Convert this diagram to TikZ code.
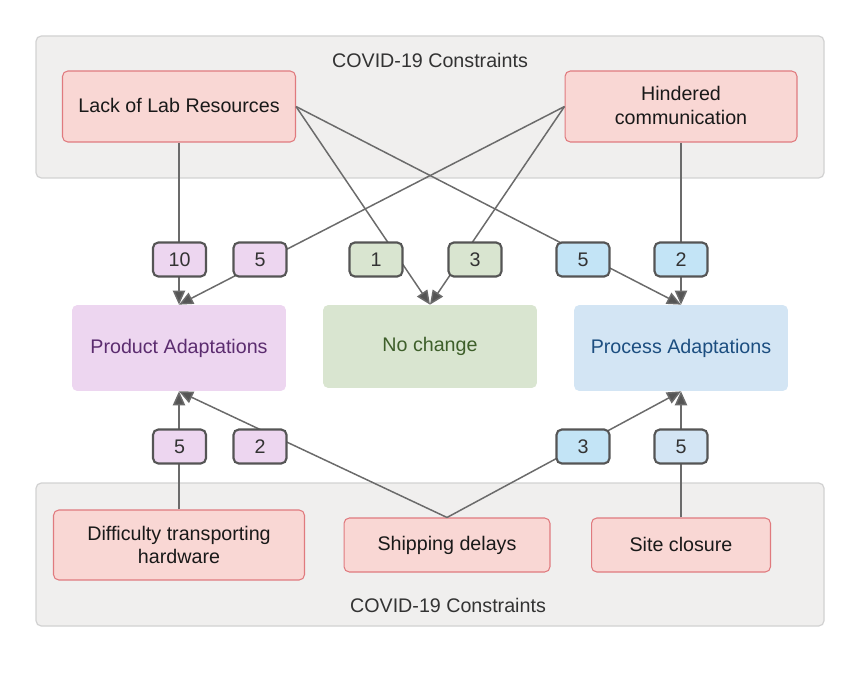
\documentclass[tikz,border=0pt]{standalone}
\usepackage{fontspec}
\setmainfont{Liberation Sans}
\usetikzlibrary{arrows.meta}
\definecolor{grpfill}{HTML}{F0EFEE}
\definecolor{grpline}{HTML}{D2D2D2}
\definecolor{srcfill}{HTML}{F9D7D4}
\definecolor{srcline}{HTML}{E07A7E}
\definecolor{prodfill}{HTML}{EDD6F0}
\definecolor{prodtext}{HTML}{5B2C6F}
\definecolor{nochfill}{HTML}{D9E5D0}
\definecolor{nochtext}{HTML}{3E5F2A}
\definecolor{procfill}{HTML}{D3E5F4}
\definecolor{proctext}{HTML}{1C4E80}
\definecolor{bluefill}{HTML}{C3E4F6}
\definecolor{linegray}{HTML}{6B6B6B}
\definecolor{tipgray}{HTML}{555555}

\begin{document}
\begin{tikzpicture}[x=0.02cm, y=-0.02cm,
        font=\fontsize{11.2pt}{13.6pt}\selectfont,
        group/.style={draw=grpline, fill=grpfill, rounded corners=3pt, line width=0.7pt},
        source/.style={draw=srcline, fill=srcfill, rounded corners=3pt, line width=0.6pt, align=center, inner sep=0pt, text=black!90},
        target/.style={rounded corners=3pt, inner sep=0pt, minimum width=4.28cm, minimum height=1.72cm},
        count/.style={draw=tipgray, line width=1.2pt, rounded corners=3pt, inner sep=0pt, minimum width=1.06cm, minimum height=0.68cm, text=black!80},
        conn/.style={draw=linegray, line width=0.85pt, -{Triangle[length=8pt, width=7pt, fill=tipgray]}}]
        \useasboundingbox (0,0) rectangle (864,675);

        \draw[group] (36,36) rectangle (824,178);
        \draw[group] (36,483) rectangle (824,626);
        \node[text=black!80] (toptitle) at (430,60) {COVID-19 Constraints};
        \node[text=black!80] (bottitle) at (448,605) {COVID-19 Constraints};

        \node[source, minimum width=4.66cm, minimum height=1.42cm] (lack) at (179,106.5) {\raisebox{1.2pt}{Lack of Lab Resources}};
        \node[source, minimum width=4.64cm, minimum height=1.42cm] (hind) at (681,106.5) {\raisebox{1.5pt}{Hindered}\\\raisebox{1.5pt}{communication}};
        \node[source, minimum width=5.02cm, minimum height=1.40cm] (diff) at (179,545) {Difficulty transporting\\hardware};
        \node[source, minimum width=4.12cm, minimum height=1.08cm] (ship) at (447,545) {Shipping delays};
        \node[source, minimum width=3.58cm, minimum height=1.08cm] (site) at (681,545) {\raisebox{1pt}{Site closure}};

        \node[target, fill=prodfill, text=prodtext] (prod) at (179,348) {Product Adaptations};
        \node[target, fill=nochfill, text=nochtext, minimum height=1.66cm] (noch) at (430,346.5) {No change};
        \node[target, fill=procfill, text=proctext] (proc) at (681,348) {Process Adaptations};

        \draw[conn] (lack.south) -- (prod.north);
        \draw[conn] (lack.east) -- (noch.north);
        \draw[conn] (lack.east) -- (proc.north);
        \draw[conn] (hind.west) -- (prod.north);
        \draw[conn] (hind.west) -- (noch.north);
        \draw[conn] (hind.south) -- (proc.north);
        \draw[conn] (diff.north) -- (prod.south);
        \draw[conn] (ship.north) -- (prod.south);
        \draw[conn] (ship.north) -- (proc.south);
        \draw[conn] (site.north) -- (proc.south);

        \node[count, fill=prodfill] (c10) at (179.5,259.5) {10};
        \node[count, fill=prodfill] (c5a) at (260,259.5) {5};
        \node[count, fill=nochfill] (c1) at (376,259.5) {1};
        \node[count, fill=nochfill] (c3a) at (475,259.5) {3};
        \node[count, fill=bluefill] (c5b) at (583,259.5) {5};
        \node[count, fill=bluefill] (c2a) at (681,259.5) {2};
        \node[count, fill=prodfill] (c5c) at (179.5,446.5) {5};
        \node[count, fill=prodfill] (c2b) at (260,446.5) {2};
        \node[count, fill=bluefill] (c3b) at (583,446.5) {3};
        \node[count, fill=procfill] (c5d) at (681,446.5) {5};
\end{tikzpicture}
\end{document}
